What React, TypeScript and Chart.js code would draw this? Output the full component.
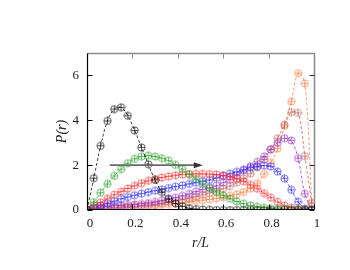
import React, { useEffect, useRef } from "react";
import { Chart, registerables } from "chart.js";

Chart.register(...registerables);

// r/L bin positions
const rOverL = [
  0, 0.03, 0.06, 0.09, 0.12, 0.15, 0.18, 0.21, 0.24, 0.27, 0.3, 0.33, 0.36, 0.39, 0.42, 0.45, 0.48,
  0.51, 0.54, 0.57, 0.6, 0.63, 0.66, 0.69, 0.72, 0.75, 0.78, 0.81, 0.84, 0.87, 0.9, 0.93, 0.96, 0.99,
];

const blackSeries = [
  0, 1.42, 2.86, 3.97, 4.5, 4.58, 4.2, 3.55, 2.79, 2.04, 1.34, 0.8, 0.5, 0.3, 0.16, 0.08, 0.04, 0.02,
  0.01, 0, 0, 0, 0, 0, 0, 0, 0, 0, 0, 0, 0, 0, 0, 0,
];
const greenSeries = [
  0, 0.35, 0.77, 1.16, 1.52, 1.82, 2.09, 2.28, 2.38, 2.42, 2.38, 2.31, 2.2, 2.01, 1.82, 1.6, 1.38,
  1.16, 0.97, 0.8, 0.65, 0.5, 0.38, 0.28, 0.2, 0.14, 0.1, 0.07, 0.05, 0.03, 0.02, 0.01, 0, 0,
];
const redSeries = [
  0, 0.2, 0.33, 0.5, 0.68, 0.82, 0.96, 1.08, 1.2, 1.3, 1.38, 1.45, 1.5, 1.55, 1.58, 1.6, 1.61, 1.61,
  1.6, 1.58, 1.54, 1.48, 1.4, 1.28, 1.12, 0.95, 0.75, 0.55, 0.36, 0.2, 0.1, 0.05, 0.02, 0,
];
const blueSeries = [
  0, 0.1, 0.2, 0.3, 0.4, 0.5, 0.58, 0.66, 0.73, 0.8, 0.86, 0.92, 0.98, 1.04, 1.1, 1.16, 1.22, 1.28,
  1.34, 1.43, 1.52, 1.62, 1.7, 1.8, 1.89, 1.94, 1.98, 1.94, 1.71, 1.4, 0.9, 0.37, 0.07, 0,
];
const purpleSeries = [
  0, 0.07, 0.12, 0.16, 0.19, 0.21, 0.23, 0.25, 0.27, 0.31, 0.36, 0.42, 0.48, 0.55, 0.63, 0.72, 0.82,
  0.92, 1.0, 1.08, 1.22, 1.37, 1.55, 1.75, 1.95, 2.15, 2.38, 2.71, 3.0, 3.2, 3.1, 2.31, 0.72, 0,
];
const brownSeries = [
  0, 0.05, 0.08, 0.1, 0.12, 0.14, 0.16, 0.18, 0.2, 0.23, 0.26, 0.3, 0.35, 0.4, 0.46, 0.53, 0.6, 0.68,
  0.76, 0.85, 0.95, 1.07, 1.22, 1.4, 1.62, 1.9, 2.25, 2.7, 3.2, 3.8, 4.36, 4.33, 2.4, 0.3,
];
const orangeSeries = [
  0, 0.03, 0.05, 0.07, 0.09, 0.1, 0.12, 0.14, 0.16, 0.18, 0.2, 0.23, 0.26, 0.29, 0.32, 0.36, 0.4,
  0.44, 0.48, 0.52, 0.57, 0.63, 0.7, 0.8, 0.95, 1.2, 1.6, 2.1, 2.74, 3.75, 4.83, 6.1, 5.64, 0.34,
];

const seriesList = [
  { name: "black", values: blackSeries, color: "#000000" },
  { name: "green", values: greenSeries, color: "#22a022" },
  { name: "red", values: redSeries, color: "#ff2a2a" },
  { name: "blue", values: blueSeries, color: "#2a2aff" },
  { name: "purple", values: purpleSeries, color: "#9b30c8" },
  { name: "brown", values: brownSeries, color: "#c0605a" },
  { name: "orange", values: orangeSeries, color: "#ff7a40" },
];

const xTicks = [0, 0.2, 0.4, 0.6, 0.8, 1];
const xTickLabels = ["0", "0.2", "0.4", "0.6", "0.8", "1"];
const yTicks = [0, 2, 4, 6];
const yTickLabels = ["0", "2", "4", "6"];
const arrowFrom = { x: 0.1, y: 2 };
const arrowTo = { x: 0.51, y: 2 };

function makeMarker(color: string): HTMLCanvasElement {
  const c = document.createElement("canvas");
  const s = 9;
  c.width = s;
  c.height = s;
  const ctx = c.getContext("2d")!;
  ctx.globalAlpha = 0.85;
  ctx.strokeStyle = color;
  ctx.lineWidth = 0.75;
  ctx.beginPath();
  ctx.arc(4.5, 4.5, 3.6, 0, Math.PI * 2);
  ctx.stroke();
  ctx.beginPath();
  ctx.moveTo(4.5, 1);
  ctx.lineTo(4.5, 8);
  ctx.moveTo(1, 4.5);
  ctx.lineTo(8, 4.5);
  ctx.stroke();
  return c;
}

const framePlugin = {
  id: "frame",
  afterDatasetsDraw(chart: any) {
    const { ctx, scales } = chart;
    const xs = scales.x;
    const ys = scales.y;
    const x0 = xs.getPixelForValue(arrowFrom.x);
    const x1 = xs.getPixelForValue(arrowTo.x);
    const yy = ys.getPixelForValue(arrowFrom.y);
    ctx.save();
    ctx.strokeStyle = "#6a6a6a";
    ctx.lineWidth = 1.6;
    ctx.beginPath();
    ctx.moveTo(x0, yy);
    ctx.lineTo(x1 - 3, yy);
    ctx.stroke();
    ctx.fillStyle = "#333333";
    ctx.beginPath();
    ctx.moveTo(x1, yy);
    ctx.lineTo(x1 - 9, yy - 3);
    ctx.lineTo(x1 - 9, yy + 3);
    ctx.closePath();
    ctx.fill();
    ctx.restore();
  },
  afterDraw(chart: any) {
    const { ctx, chartArea: a, scales } = chart;
    const xs = scales.x;
    const ys = scales.y;
    const L = Math.round(a.left) + 0.5;
    const R = Math.round(a.right) + 0.5;
    const T = Math.round(a.top) + 0.5;
    const B = Math.round(a.bottom) - 0.5;
    const tl = 5;
    ctx.save();
    ctx.strokeStyle = "#8c8c8c";
    ctx.lineWidth = 1.5;
    ctx.beginPath();
    ctx.moveTo(L, T);
    ctx.lineTo(R, T);
    ctx.lineTo(R, B);
    ctx.stroke();
    ctx.lineWidth = 1;
    ctx.beginPath();
    for (const v of xTicks) {
      const px = Math.round(xs.getPixelForValue(v)) + 0.5;
      ctx.moveTo(px, T);
      ctx.lineTo(px, T + tl);
    }
    ctx.stroke();
    ctx.strokeStyle = "#222222";
    ctx.beginPath();
    for (const v of yTicks) {
      const py = Math.round(ys.getPixelForValue(v)) + 0.5;
      ctx.moveTo(R, py);
      ctx.lineTo(R - tl, py);
    }
    ctx.stroke();
    ctx.strokeStyle = "#000000";
    ctx.lineWidth = 1.2;
    ctx.beginPath();
    ctx.moveTo(L, T);
    ctx.lineTo(L, B);
    ctx.lineTo(R, B);
    ctx.stroke();
    ctx.lineWidth = 1;
    ctx.beginPath();
    for (const v of yTicks) {
      const py = Math.round(ys.getPixelForValue(v)) + 0.5;
      ctx.moveTo(L, py);
      ctx.lineTo(L + tl, py);
    }
    for (const v of xTicks) {
      const px = Math.round(xs.getPixelForValue(v)) + 0.5;
      ctx.moveTo(px, B);
      ctx.lineTo(px, B - tl);
    }
    ctx.stroke();
    ctx.restore();
  },
};

export default function App() {
  const canvasRef = useRef<HTMLCanvasElement | null>(null);

  useEffect(() => {
    const canvas = canvasRef.current;
    if (!canvas) return;
    const serif = "'Liberation Serif', 'DejaVu Serif', serif";
    const datasets = seriesList.map((s) => ({
      label: s.name,
      data: rOverL.map((x, i) => ({ x, y: s.values[i] })),
      borderColor: s.color,
      backgroundColor: s.color,
      borderWidth: 0.75,
      borderDash: [3, 2],
      tension: 0.35,
      fill: false,
      pointStyle: makeMarker(s.color),
      pointRadius: 4,
      pointHoverRadius: 4,
    }));
    const chart = new Chart(canvas, {
      type: "line",
      data: { datasets } as any,
      plugins: [framePlugin],
      options: {
        animation: false,
        responsive: false,
        maintainAspectRatio: false,
        events: [],
        layout: { padding: { left: 0, top: 53, right: 36, bottom: 0 } },
        plugins: { legend: { display: false }, tooltip: { enabled: false } },
        scales: {
          x: {
            type: "linear",
            min: 0,
            max: 1,
            grid: { display: false, drawTicks: false, tickLength: 0 },
            border: { display: false },
            afterFit: (scale: any) => {
              scale.height = 60;
            },
            afterBuildTicks: (scale: any) => {
              scale.ticks = xTicks.map((v) => ({ value: v }));
            },
            ticks: {
              padding: 6,
              labelOffset: 3,
              maxRotation: 0,
              color: "#222222",
              font: { family: serif, size: 13 },
              callback: (_v: any, i: number) => xTickLabels[i],
            },
            title: {
              display: true,
              text: "r/L",
              color: "#222222",
              font: { family: serif, size: 14, style: "italic" },
              padding: { top: 0, bottom: 18 },
            },
          },
          y: {
            type: "linear",
            min: 0,
            max: 7,
            grid: { display: false, drawTicks: false, tickLength: 0 },
            border: { display: false },
            afterFit: (scale: any) => {
              scale.width = 87;
            },
            afterBuildTicks: (scale: any) => {
              scale.ticks = yTicks.map((v) => ({ value: v }));
            },
            ticks: {
              padding: 8,
              color: "#222222",
              font: { family: serif, size: 13 },
              callback: (_v: any, i: number) => yTickLabels[i],
            },
            title: {
              display: true,
              text: "P(r)",
              color: "#222222",
              font: { family: serif, size: 14, style: "italic" },
              padding: { top: 54, bottom: 0 },
            },
          },
        },
      } as any,
    });
    return () => chart.destroy();
  }, []);

  return (
    <div style={{ position: "absolute", left: 0, top: 0, width: 350, height: 270, background: "#fff" }}>
      <canvas ref={canvasRef} width={350} height={270} style={{ display: "block", width: 350, height: 270 }} />
    </div>
  );
}
